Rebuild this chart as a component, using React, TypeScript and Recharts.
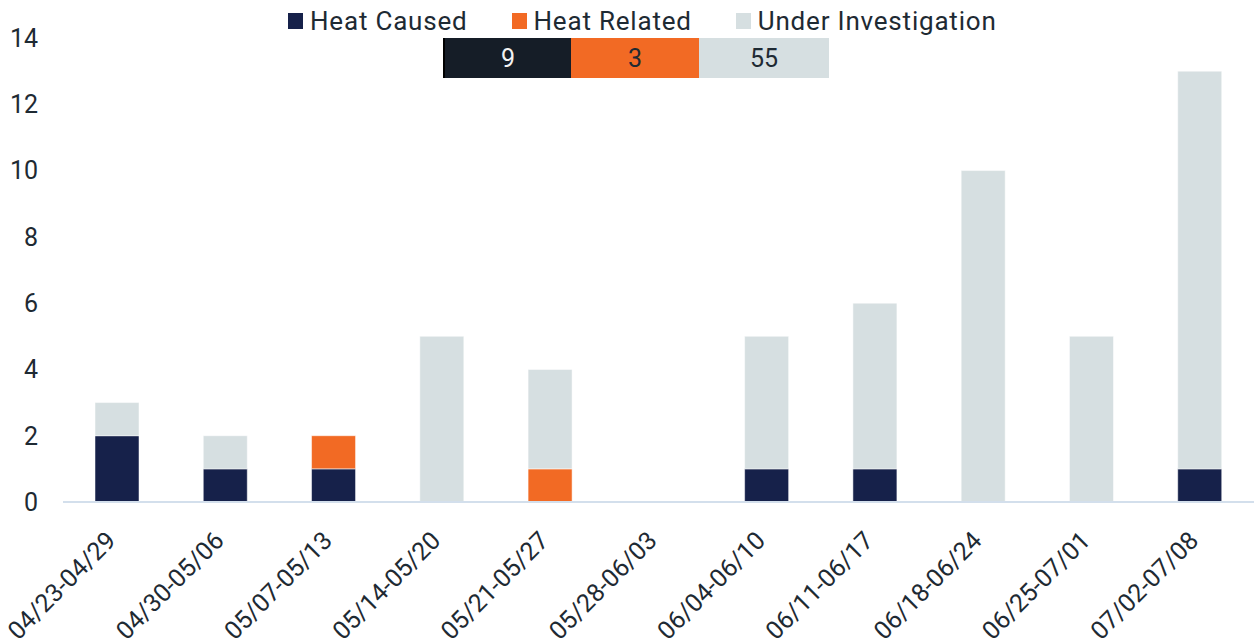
import { BarChart, Bar, XAxis, YAxis } from "recharts";

const weeks = [
  "04/23-04/29",
  "04/30-05/06",
  "05/07-05/13",
  "05/14-05/20",
  "05/21-05/27",
  "05/28-06/03",
  "06/04-06/10",
  "06/11-06/17",
  "06/18-06/24",
  "06/25-07/01",
  "07/02-07/08",
];
const heatCaused = [2, 1, 1, 0, 0, 0, 1, 1, 0, 0, 1];
const heatRelated = [0, 0, 1, 0, 1, 0, 0, 0, 0, 0, 0];
const underInvestigation = [1, 1, 0, 5, 3, 0, 4, 5, 10, 5, 12];
const seriesNames = ["Heat Caused", "Heat Related", "Under Investigation"];
const totals = [9, 3, 55];
const yTicks = [0, 2, 4, 6, 8, 10, 12, 14];

const NAVY = "#16214A";
const ORANGE = "#F26A24";
const GREY = "#D6DFE1";
const TEXT = "#1E2A33";
const FONT = "Roboto, sans-serif";

const swatch = [NAVY, ORANGE, GREY];
const boxFill = ["#151D27", ORANGE, GREY];
const boxText = ["#F2F2F2", TEXT, TEXT];

const data = weeks.map((w, i) => ({
  week: w,
  caused: heatCaused[i],
  related: heatRelated[i],
  investigation: underInvestigation[i],
}));

function WeekTick({ x, y, payload }: any) {
  const ax = x;
  const ay = y + 38;
  return (
    <text
      x={ax}
      y={ay}
      transform={`rotate(-45 ${ax} ${ay})`}
      textAnchor="end"
      fill={TEXT}
      fontSize={25}
      fontFamily={FONT}
    >
      {payload.value}
    </text>
  );
}

export default function App() {
  return (
    <div style={{ position: "absolute", left: 0, top: 0, width: 1260, height: 644, background: "#fff", fontFamily: FONT }}>
      <BarChart width={1260} height={644} data={data} margin={{ top: 38, right: 6, bottom: 0, left: 0 }}>
        <XAxis
          dataKey="week"
          interval={0}
          height={142}
          tickLine={false}
          tickSize={0}
          axisLine={{ stroke: "#D3DFEC", strokeWidth: 2 }}
          tick={<WeekTick />}
        />
        <YAxis
          width={63}
          domain={[0, 14]}
          ticks={yTicks}
          axisLine={false}
          tickLine={false}
          tickMargin={19}
          tick={{ fill: TEXT, fontSize: 25, fontFamily: FONT }}
        />
        <Bar dataKey="caused" stackId="s" fill={NAVY} stroke="#fff" strokeWidth={0.5} barSize={44} isAnimationActive={false} />
        <Bar dataKey="related" stackId="s" fill={ORANGE} stroke="#fff" strokeWidth={0.5} barSize={44} isAnimationActive={false} />
        <Bar dataKey="investigation" stackId="s" fill={GREY} stroke="#fff" strokeWidth={0.5} barSize={44} isAnimationActive={false} />
      </BarChart>

      {/* legend */}
      <div style={{ position: "absolute", left: 288, top: 4, display: "flex", alignItems: "center", height: 34 }}>
        {seriesNames.map((n, i) => (
          <div key={n} style={{ display: "flex", alignItems: "center", marginRight: 44 }}>
            <span style={{ width: 15, height: 16, background: swatch[i], marginRight: 7 }} />
            <span style={{ fontSize: 26, color: TEXT, lineHeight: "30px", letterSpacing: 0.8 }}>{n}</span>
          </div>
        ))}
      </div>

      {/* totals strip */}
      <div style={{ position: "absolute", left: 443, top: 38, height: 40, display: "flex", borderLeft: "2px solid #000" }}>
        {totals.map((t, i) => (
          <div
            key={i}
            style={{
              width: i === 0 ? 126 : i === 1 ? 128 : 130,
              height: 40,
              background: boxFill[i],
              color: boxText[i],
              fontSize: 25,
              display: "flex",
              alignItems: "center",
              justifyContent: "center",
            }}
          >
            {t}
          </div>
        ))}
      </div>
    </div>
  );
}
